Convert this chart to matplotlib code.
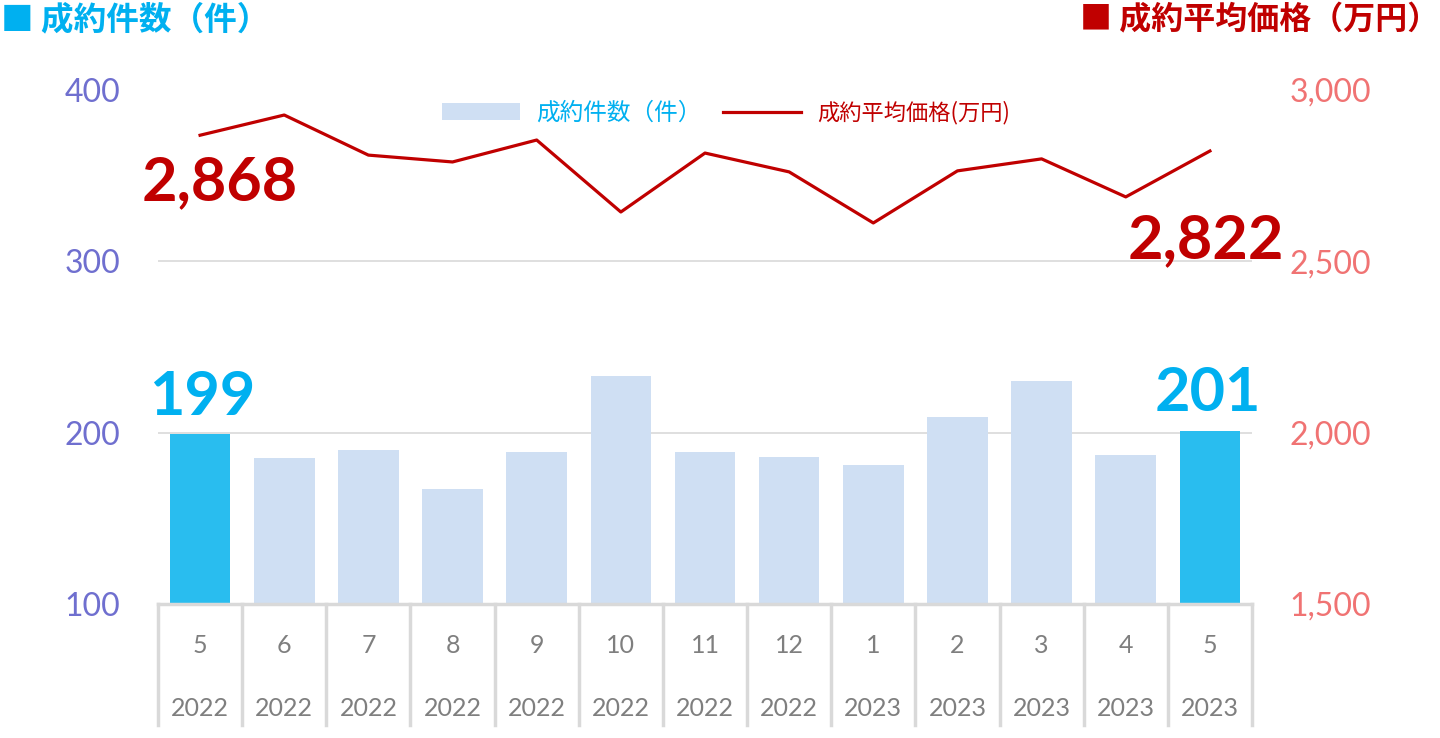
import matplotlib
matplotlib.use("Agg")
import matplotlib.pyplot as plt
from matplotlib.patches import Patch
from matplotlib.lines import Line2D
from matplotlib.ticker import FuncFormatter, FixedLocator
import matplotlib.transforms as mtransforms

months = ["5", "6", "7", "8", "9", "10", "11", "12", "1", "2", "3", "4", "5"]
years = ["2022", "2022", "2022", "2022", "2022", "2022", "2022", "2022",
         "2023", "2023", "2023", "2023", "2023"]
counts = [199, 185, 190, 167, 189, 233, 189, 186, 181, 209, 230, 187, 201]
prices = [2868, 2927, 2810, 2790, 2854, 2644, 2816, 2761, 2612, 2764, 2799, 2688, 2822]

JP = ['Noto Sans CJK JP', 'DejaVu Sans']
NUM = ['Lato', 'Noto Sans CJK JP', 'DejaVu Sans']
plt.rcParams['font.family'] = NUM

BLUE_HI = '#29bdef'
BLUE_LO = '#cfdff3'
RED = '#c00000'
LEFT_TICK = '#6f6fcf'
RIGHT_TICK = '#f07373'
GREY = '#d9d9d9'
TXT_GREY = '#7f7f7f'
CYAN = '#00b0f0'

fig = plt.figure(figsize=(14.4, 7.38), dpi=100)
ax = fig.add_axes([158/1440, 1-604/738, (1252-158)/1440, (604-90)/738])
ax2 = ax.twinx()

n = len(counts)
x = list(range(n))
colors = [BLUE_HI if i in (0, n-1) else BLUE_LO for i in x]
ax.bar(x, counts, width=0.72, color=colors, zorder=2, bottom=0)
ax.set_ylim(100, 400)
ax.set_xlim(-0.5, n-0.5)
ax.yaxis.set_major_locator(FixedLocator([100, 200, 300, 400]))
for g in (200, 300):
    ax.axhline(g, color=GREY, lw=1.2, zorder=1)

ax2.plot(x, prices, color=RED, lw=2.3, zorder=3)
ax2.set_ylim(1500, 3000)
ax2.yaxis.set_major_locator(FixedLocator([1500, 2000, 2500, 3000]))
ax2.yaxis.set_major_formatter(FuncFormatter(lambda v, p: f"{int(v):,}"))

for a in (ax, ax2):
    for s in a.spines.values():
        s.set_visible(False)
ax.spines['bottom'].set_visible(True)
ax.spines['bottom'].set_color(GREY)
ax.spines['bottom'].set_linewidth(2.5)
ax.set_xticks([])
ax.tick_params(axis='y', length=0, pad=27, labelsize=23, labelcolor=LEFT_TICK)
ax2.tick_params(axis='y', length=0, pad=27, labelsize=23, labelcolor=RIGHT_TICK)

# category table below axis
trans = mtransforms.blended_transform_factory(ax.transData, ax.transAxes)
for k in range(n + 1):
    ax.plot([k - 0.5, k - 0.5], [0, -0.236], transform=trans, color=GREY,
            lw=2.5, clip_on=False, zorder=1)
for i in x:
    ax.text(i, -0.08, months[i], transform=trans, ha='center', va='center',
            fontsize=18, color=TXT_GREY)
    ax.text(i, -0.203, years[i], transform=trans, ha='center', va='center',
            fontsize=18, color=TXT_GREY)

# highlight annotations
ax2.annotate(f"{prices[0]:,}", (0, prices[0]), xytext=(20, -47),
             textcoords='offset pixels', ha='center', va='center',
             fontsize=44, fontweight='bold', color=RED, zorder=5)
ax2.annotate(f"{prices[-1]:,}", (n-1, prices[-1]), xytext=(-4, -89),
             textcoords='offset pixels', ha='center', va='center',
             fontsize=44, fontweight='bold', color=RED, zorder=5)
ax.annotate(f"{counts[0]}", (0, counts[0]), xytext=(2, 37),
            textcoords='offset pixels', ha='center', va='center',
            fontsize=44, fontweight='bold', color=CYAN, zorder=5)
ax.annotate(f"{counts[-1]}", (n-1, counts[-1]), xytext=(-2, 38),
            textcoords='offset pixels', ha='center', va='center',
            fontsize=44, fontweight='bold', color=CYAN, zorder=5)

# titles
fig.text(1/1440, 1-20/738, "■ 成約件数（件）", ha='left', va='center',
         fontsize=23.5, fontweight='bold', color=CYAN, family=JP)
fig.text(1439/1440, 1-20/738, "■ 成約平均価格（万円）", ha='right', va='center',
         fontsize=23, fontweight='bold', color=RED, family=JP)

# legend
handles = [Patch(facecolor=BLUE_LO, edgecolor='none'),
           Line2D([0], [0], color=RED, lw=2.3)]
leg = fig.legend(handles, ["成約件数（件）", "成約平均価格(万円)"], ncol=2,
                 loc='center', bbox_to_anchor=(726/1440, 1-113/738),
                 frameon=False, handlelength=3.3, handleheight=0.7,
                 columnspacing=0.9, handletextpad=0.7,
                 prop={'family': JP, 'size': 17})
t1, t2 = leg.get_texts()
t1.set_color(CYAN)
t2.set_color(RED)
t2.set_fontsize(16)

fig.savefig("out.png", dpi=100)
